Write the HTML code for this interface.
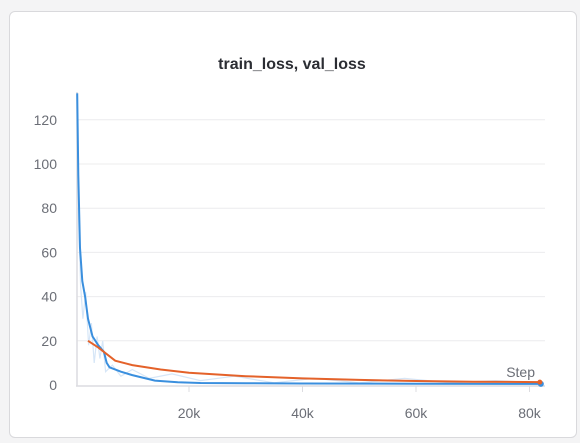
<!DOCTYPE html>
<html><head><meta charset="utf-8"><style>
html,body{margin:0;padding:0;width:580px;height:443px;background:#f4f4f5;overflow:hidden;font-family:"Liberation Sans",sans-serif}
#card{position:absolute;left:9px;top:11px;width:566px;height:425px;background:#fff;border:1px solid #d9d9dc;border-radius:6px}
svg{position:absolute;left:0;top:0}
</style></head><body>
<div id="card"></div>
<svg id="chart" width="580" height="443"></svg>
<script>
const yTicks=[0,20,40,60,80,100,120];
const xTicks=[20000,40000,60000,80000];
const xTickLabels=["20k","40k","60k","80k"];
const trainSteps=[300,500,800,1200,1700,2200,3000,4000,5000,5500,6000,8000,10000,14000,18000,22000,30000,40000,60000,82000];
const trainLoss=[132,95,62,47,40,30,22,18,15,10,8,6,4.5,2,1.2,0.9,0.8,0.7,0.6,0.5];
const rawSteps=[500,900,1300,1800,2300,2800,3300,3800,4300,4800,5300,6500,8000,10000,13000,17000,22000,28000,35000,42000,50000,58000,66000,74000,82000];
const rawLoss=[80,45,30,42,18,28,10,22,12,20,6,9,4,7,3,5,2,4,1,3,1,3,1,2,1];
const valSteps=[2200,4000,7000,10000,15000,20000,30000,40000,50000,60000,70000,82000];
const valLoss=[20,17,11,9,7,5.5,4,3,2.3,1.8,1.5,1.3];
const NS="http://www.w3.org/2000/svg";
const svg=document.getElementById('chart');
const X=v=>75.5+v/20000*113.5;
const Y=v=>385-v*2.21;
function mk(t,a,parent){const e=document.createElementNS(NS,t);for(const k in a)e.setAttribute(k,a[k]);(parent||svg).appendChild(e);return e;}
const title=mk('text',{x:292,y:69,'text-anchor':'middle','font-size':'16','font-weight':'bold',fill:'#2b2d33'});
title.textContent='train_loss, val_loss';


yTicks.forEach(v=>{
  if(v>0){const g=mk('line',{x1:77,x2:545,y1:Y(v),y2:Y(v),stroke:'#ececee','stroke-width':1});
  
  }
  const t=mk('text',{x:57,y:Y(v)+5,'text-anchor':'end','font-size':'14',fill:'#6b6e76'});
  t.textContent=v;
  
  
});
const ax=mk('line',{x1:77,x2:77,y1:92,y2:386,stroke:'#dcdce0','stroke-width':1.5});


const xa=mk('line',{x1:76,x2:545,y1:386,y2:386,stroke:'#dcdce0','stroke-width':1.5});


xTicks.forEach((v,i)=>{
  const tk=mk('line',{x1:X(v),x2:X(v),y1:386,y2:392,stroke:'#dcdce0'});
  
  
  const t=mk('text',{x:X(v),y:418,'text-anchor':'middle','font-size':'14',fill:'#6b6e76'});
  t.textContent=xTickLabels[i];
  
  
});
const st=mk('text',{x:535,y:377,'text-anchor':'end','font-size':'14',fill:'#6b6e76'});
st.textContent='Step';


function path(xs,ys){return xs.map((s,i)=>(i?'L':'M')+X(s).toFixed(1)+','+Y(ys[i]).toFixed(1)).join('');}
const raw=mk('path',{d:path(rawSteps,rawLoss),fill:'none',stroke:'#d6e6f7','stroke-width':1.2});


const tr=mk('path',{d:path(trainSteps,trainLoss),fill:'none',stroke:'#3a8fde','stroke-width':2});


const va=mk('path',{d:path(valSteps,valLoss),fill:'none',stroke:'#e4622a','stroke-width':2});


const d1=mk('circle',{cx:X(trainSteps[trainSteps.length-1]),cy:Y(trainLoss[trainLoss.length-1]),r:3,fill:'#3a8fde'});


const d2=mk('circle',{cx:X(valSteps[valSteps.length-1])-1,cy:Y(valLoss[valLoss.length-1]),r:2.5,fill:'#e4622a'});


</script>
</body></html>
